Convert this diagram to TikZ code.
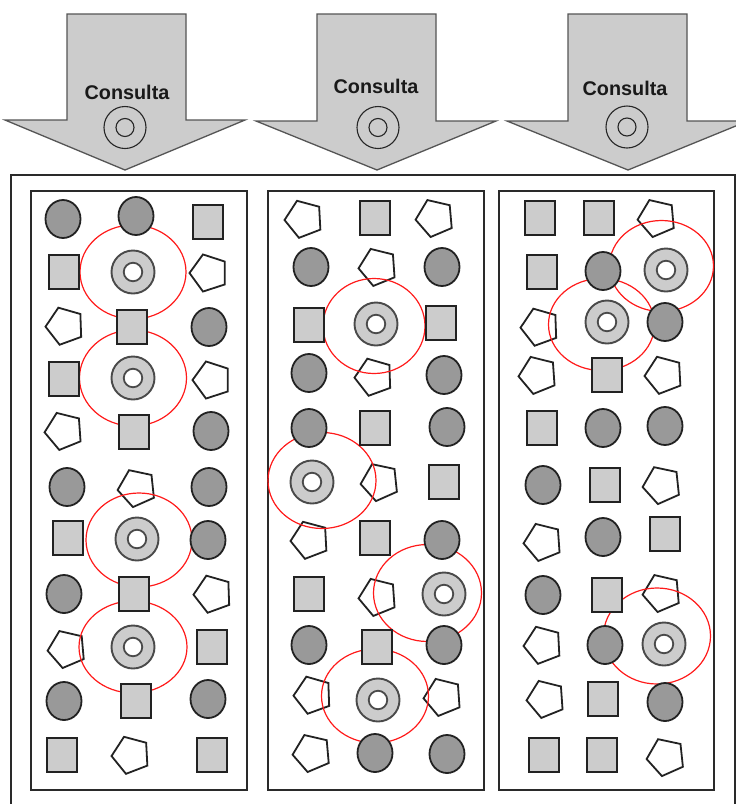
\documentclass[tikz,border=0pt]{standalone}
\usepackage{fontspec}
\setmainfont{Liberation Sans}
\usetikzlibrary{shapes.geometric}
\definecolor{sqg}{HTML}{CCCCCC}
\definecolor{dotg}{HTML}{999999}
\definecolor{edgec}{HTML}{222222}
\definecolor{ringedge}{HTML}{4A4A4A}
\definecolor{arrowedge}{HTML}{555555}
\definecolor{frameedge}{HTML}{2A2A2A}
\definecolor{hitred}{HTML}{FF1A1A}
\tikzset{
  sqbox/.style={rectangle, minimum width=30pt, minimum height=34pt, inner sep=0pt, fill=sqg, draw=edgec, line width=1.8pt},
  dotbox/.style={ellipse, minimum width=35pt, minimum height=38pt, inner sep=0pt, fill=dotg, draw=edgec, line width=1.8pt},
  pentbox/.style={regular polygon, regular polygon sides=5, minimum size=39pt, inner sep=0pt, fill=white, draw=edgec, line width=1.8pt, rotate=#1},
  pentbox/.default=93,
  ringout/.style={circle, minimum size=43pt, inner sep=0pt, fill=sqg, draw=ringedge, line width=1.9pt},
  ringin/.style={circle, minimum size=18.5pt, inner sep=0pt, fill=white, draw=ringedge, line width=1.8pt},
  hit/.style={draw=hitred, line width=1.2pt},
  frame/.style={draw=frameedge, line width=1.8pt},
  bigarrow/.style={fill=sqg, draw=arrowedge, line width=1.3pt, line join=miter},
  constext/.style={font=\fontsize{19.8}{21}\selectfont\bfseries, text=black!90, inner sep=0pt},
  qout/.style={circle, minimum size=42pt, inner sep=0pt, draw=black!85, line width=1.1pt},
  qin/.style={circle, minimum size=18pt, inner sep=0pt, draw=black!85, line width=1.1pt}
}
\begin{document}
\begin{tikzpicture}[x=1pt,y=-1pt]
\useasboundingbox (0,0) rectangle (736,804);
\clip (0,0) rectangle (736,804);
\fill[white] (0,0) rectangle (736,804);

% outer frame and panels
\draw[frame] (11,175) rectangle (735,812);
\draw[frame] (31,191) rectangle (247,790);
\draw[frame] (268,191) rectangle (484,790);
\draw[frame] (499,191) rectangle (714,790);

% query arrows
\draw[bigarrow] (67,14) -- (186,14) -- (186,120) -- (245,120) -- (125,170) -- (5,120) -- (67,120) -- cycle;
\draw[bigarrow] (317,14) -- (436,14) -- (436,121) -- (496,121) -- (377,170) -- (256,121) -- (317,121) -- cycle;
\draw[bigarrow] (568,14) -- (687,14) -- (687,121) -- (748,121) -- (628,170) -- (507,121) -- (568,121) -- cycle;
\node[constext] (t1) at (127,92) {Consulta};
\node[constext] (t2) at (376,86) {Consulta};
\node[constext] (t3) at (625,88) {Consulta};
\node[qout] (qo1) at (125,127.5) {};
\node[qin]  (qi1) at (125,127.5) {};
\node[qout] (qo2) at (378,127.5) {};
\node[qin]  (qi2) at (378,127.5) {};
\node[qout] (qo3) at (627,127) {};
\node[qin]  (qi3) at (627,127) {};

% pentagons
\foreach \x/\y/\r/\n in {
  209/273/90/pa1, 65/326/92/pa2, 212/380/90/pa3, 64/431/94/pa4, 137/488/96/pa5,
  213/594/92/pa6, 67/649/95/pa7, 131/755/93/pa8,
  304/219/93/pb1, 435/218/95/pb2, 378/267/94/pb3, 374/377/92/pb4, 380/482/96/pb5,
  310/540/93/pb6, 378/597/94/pb7, 313/695/92/pb8, 443/697/94/pb9, 312/753/95/pb10,
  657/218/95/pc1, 540/327/92/pc2, 538/375/94/pc3, 664/375/93/pc4, 662/485/96/pc5,
  543/542/94/pc6, 662/593/95/pc7, 543/645/93/pc8, 546/699/94/pc9, 666/757/96/pc10}
  \node[pentbox=\r] (\n) at (\x,\y) {};

% hit regions (red)
\draw[hit] (133,272) ellipse [x radius=53, y radius=47];
\draw[hit] (133,378) ellipse [x radius=53.5, y radius=48];
\draw[hit] (139,540) ellipse [x radius=53, y radius=47];
\draw[hit] (133,647) ellipse [x radius=54, y radius=46];
\draw[hit] (374,326) ellipse [x radius=51, y radius=47.5];
\draw[hit] (322,480.5) ellipse [x radius=54, y radius=48];
\draw[hit] (427.5,593) ellipse [x radius=54, y radius=48.5];
\draw[hit] (375,696) ellipse [x radius=53.5, y radius=47];
\draw[hit] (661.5,266) ellipse [x radius=52, y radius=45.5];
\draw[hit] (601.5,324.5) ellipse [x radius=53, y radius=46];
\draw[hit] (657,636) ellipse [x radius=53.5, y radius=48];

% squares
\foreach \x/\y/\n in {
  208/222/sa1, 64/272/sa2, 132/327/sa3, 64/379/sa4, 134/432/sa5, 68/538/sa6,
  134/594/sa7, 212/647/sa8, 136/701/sa9, 62/755/sa10, 212/755/sa11,
  375/218/sb1, 309/325/sb2, 441/323/sb3, 375/428/sb4, 444/482/sb5, 375/538/sb6,
  309/594/sb7, 377/647/sb8,
  540/218/sc1, 599/218/sc2, 542/272/sc3, 607/375/sc4, 542/428/sc5, 605/485/sc6,
  665/534/sc7, 607/595/sc8, 603/699/sc9, 544/755/sc10, 602/755/sc11}
  \node[sqbox] (\n) at (\x,\y) {};

% dark circles
\foreach \x/\y/\n in {
  63/219/da1, 136/216/da2, 209/327/da3, 211/431/da4, 67/487/da5, 209/487/da6,
  208/540/da7, 64/594/da8, 64/701/da9, 208/699/da10,
  311/267/db1, 442/267/db2, 309/373/db3, 444/375/db4, 309/428/db5, 447/427/db6,
  442/540/db7, 309/645/db8, 444/645/db9, 375/753/db10, 447/754/db11,
  603/271/dc1, 665/322/dc2, 603/428/dc3, 665/426/dc4, 543/485/dc5, 603/537/dc6,
  543/595/dc7, 605/645/dc8, 665/702/dc9}
  \node[dotbox] (\n) at (\x,\y) {};

% data items matching the query
\foreach \x/\y/\n in {
  133/272/ra1, 133/378/ra2, 137/539/ra3, 133/647/ra4,
  376/324/rb1, 312/482/rb2, 444/594/rb3, 378/700/rb4,
  666/270/rc1, 607/322/rc2, 664/644/rc3}
  {\node[ringout] (\n) at (\x,\y) {};
   \node[ringin] (\n i) at (\x,\y) {};}
\end{tikzpicture}
\end{document}
